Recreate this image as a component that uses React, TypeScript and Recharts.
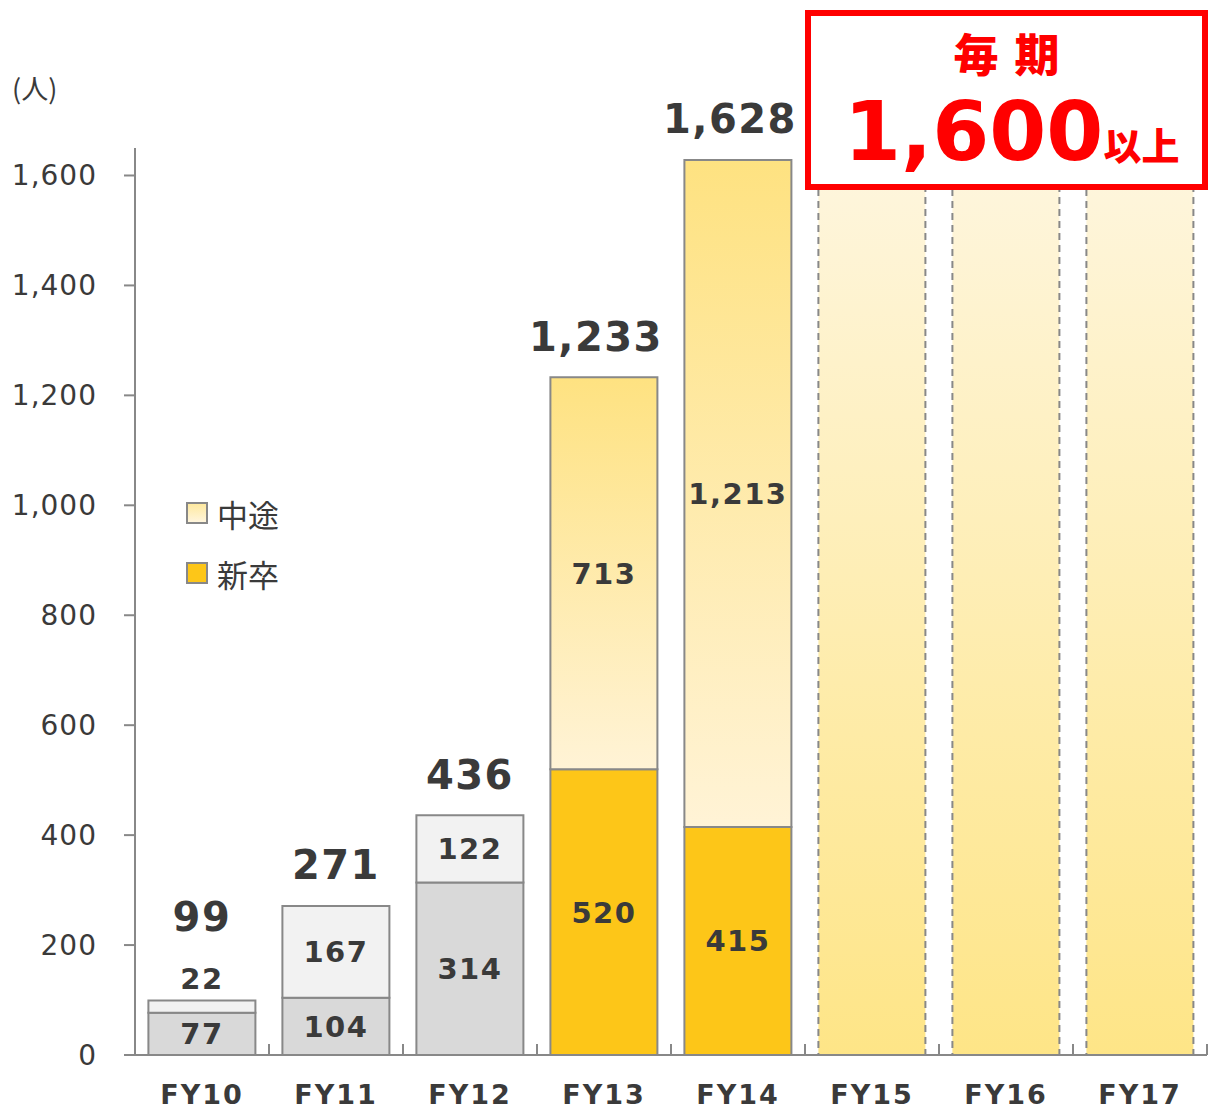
import React from 'react';
import { BarChart, Bar, XAxis, YAxis, Cell, LabelList } from 'recharts';

const categories = ['FY10', 'FY11', 'FY12', 'FY13', 'FY14', 'FY15', 'FY16', 'FY17'];
const newGrad: (number | null)[] = [77, 104, 314, 520, 415, null, null, null];
const midCareer: (number | null)[] = [22, 167, 122, 713, 1213, null, null, null];
const totals: (number | null)[] = [99, 271, 436, 1233, 1628, null, null, null];
const goal: (number | null)[] = [null, null, null, null, null, 1650, 1650, 1650];
const goldYears = ['FY13', 'FY14'];
const yTicks = [0, 200, 400, 600, 800, 1000, 1200, 1400, 1600];

const data = categories.map((name, i) => ({
  name,
  newGrad: newGrad[i],
  mid: midCareer[i],
  goal: goal[i],
}));

const NUM_FONT = '"DejaVu Sans", "Noto Sans CJK JP", sans-serif';
const JP_FONT = '"Noto Sans CJK JP", "DejaVu Sans", sans-serif';
const TEXT = '#3a3a3a';
const fmt = (v: number) => v.toLocaleString('en-US');

const XTick = (props: any) => {
  const { x, y, payload, index } = props;
  const off = payload.offset || 0;
  const axisY = y - 30;
  return (
    <g>
      <line x1={x - off} x2={x - off} y1={axisY} y2={axisY - 11} stroke="#888" strokeWidth={2} />
      {index === categories.length - 1 && (
        <line x1={x + off} x2={x + off} y1={axisY} y2={axisY - 11} stroke="#888" strokeWidth={2} />
      )}
      <text x={x} y={y} dy="0.71em" textAnchor="middle" fill={TEXT} fontFamily={NUM_FONT}
        fontWeight="bold" fontSize={27} letterSpacing={2}>
        {payload.value}
      </text>
    </g>
  );
};

const NewGradLabel = (props: any) => {
  const { x, y, width, height, value } = props;
  if (value == null) return null;
  return (
    <text x={x + width / 2} y={y + height / 2} dy="0.36em" textAnchor="middle" fill={TEXT}
      fontFamily={NUM_FONT} fontWeight="bold" fontSize={29} letterSpacing={1.5}>
      {fmt(value)}
    </text>
  );
};

const MidLabel = (props: any) => {
  const { x, y, width, height, value, index } = props;
  if (value == null) return null;
  const small = height < 40;
  const cx = x + width / 2;
  const segY = small ? y - 22 : y + height / 2;
  const total = totals[index];
  const totY = small ? y - 84 : y - 41;
  const totX = total != null && total >= 1000 ? cx - 8 : cx;
  return (
    <g>
      <text x={cx} y={segY} dy="0.36em" textAnchor="middle" fill={TEXT}
        fontFamily={NUM_FONT} fontWeight="bold" fontSize={29} letterSpacing={1.5}>
        {fmt(value)}
      </text>
      {total != null && (
        <text x={totX} y={totY} dy="0.36em" textAnchor="middle" fill={TEXT}
          fontFamily={NUM_FONT} fontWeight="bold" fontSize={40} letterSpacing={1.5}>
          {fmt(total)}
        </text>
      )}
    </g>
  );
};

export default function App() {
  return (
    <div style={{ position: 'absolute', left: 0, top: 0, width: 1208, height: 1111, background: '#fff' }}>
      <BarChart
        width={1208}
        height={1111}
        data={data}
        margin={{ top: 148, right: 1, bottom: 0, left: 0 }}
        barCategoryGap="10%"
      >
        <defs>
          <linearGradient id="midGold" x1="0" y1="0" x2="0" y2="1">
            <stop offset="0%" stopColor="#fee281" />
            <stop offset="100%" stopColor="#fff3d6" />
          </linearGradient>
          <linearGradient id="goalGrad" x1="0" y1="0" x2="0" y2="1">
            <stop offset="0%" stopColor="#fef6df" />
            <stop offset="100%" stopColor="#fee587" />
          </linearGradient>
        </defs>
        <XAxis
          dataKey="name"
          axisLine={{ stroke: '#888', strokeWidth: 2 }}
          tickLine={false}
          tickSize={0}
          tickMargin={30}
          height={56}
          tick={<XTick />}
          interval={0}
        />
        <YAxis
          width={135}
          domain={[0, 1650]}
          ticks={yTicks}
          allowDataOverflow
          axisLine={{ stroke: '#888', strokeWidth: 2 }}
          tickLine={{ stroke: '#888', strokeWidth: 2 }}
          tickSize={11}
          tickMargin={27}
          tickFormatter={(v: number) => fmt(v)}
          tick={{ fill: TEXT, fontSize: 28, fontFamily: NUM_FONT, letterSpacing: 1 }}
        />
        <Bar dataKey="newGrad" stackId="a" stroke="#888" strokeWidth={2} isAnimationActive={false}>
          {data.map((d) => (
            <Cell key={d.name} fill={goldYears.includes(d.name) ? '#fdc618' : '#d9d9d9'} />
          ))}
          <LabelList dataKey="newGrad" content={<NewGradLabel />} />
        </Bar>
        <Bar dataKey="mid" stackId="a" stroke="#888" strokeWidth={2} isAnimationActive={false}>
          {data.map((d) => (
            <Cell key={d.name} fill={goldYears.includes(d.name) ? 'url(#midGold)' : '#f2f2f2'} />
          ))}
          <LabelList dataKey="mid" content={<MidLabel />} />
        </Bar>
        <Bar dataKey="goal" stackId="a" fill="url(#goalGrad)" stroke="#888" strokeWidth={2}
          strokeDasharray="7 5" isAnimationActive={false} />
      </BarChart>

      <div style={{ position: 'absolute', left: 12, top: 68, fontFamily: JP_FONT, fontSize: 27, color: TEXT }}>
        (人)
      </div>

      <div style={{ position: 'absolute', left: 186, top: 493, fontFamily: JP_FONT, color: TEXT, fontSize: 31 }}>
        <div style={{ display: 'flex', alignItems: 'center', height: 40 }}>
          <span style={{ display: 'inline-block', width: 18, height: 18, border: '2px solid #888',
            background: 'linear-gradient(#fee9a0, #fff5dc)', marginRight: 9 }} />
          <span>中途</span>
        </div>
        <div style={{ display: 'flex', alignItems: 'center', height: 40, marginTop: 20 }}>
          <span style={{ display: 'inline-block', width: 18, height: 18, border: '2px solid #888',
            background: '#fdc618', marginRight: 9 }} />
          <span>新卒</span>
        </div>
      </div>

      <div style={{ position: 'absolute', left: 805, top: 10, width: 403, height: 180, boxSizing: 'border-box',
        border: '6px solid #ff0000', background: '#fff', color: '#ff0000', fontFamily: JP_FONT, fontWeight: 900 }}>
        <div style={{ position: 'absolute', left: 0, right: 0, top: 10, textAlign: 'center', fontSize: 45,
          lineHeight: '54px', letterSpacing: 16, paddingLeft: 16 }}>
          毎期
        </div>
        <div style={{ position: 'absolute', left: 33, top: 68, whiteSpace: 'nowrap', lineHeight: '96px' }}>
          <span style={{ fontFamily: NUM_FONT, fontSize: 82, fontWeight: 'bold' }}>1,600</span>
          <span style={{ fontSize: 38, fontWeight: 900 }}>以上</span>
        </div>
      </div>
    </div>
  );
}
